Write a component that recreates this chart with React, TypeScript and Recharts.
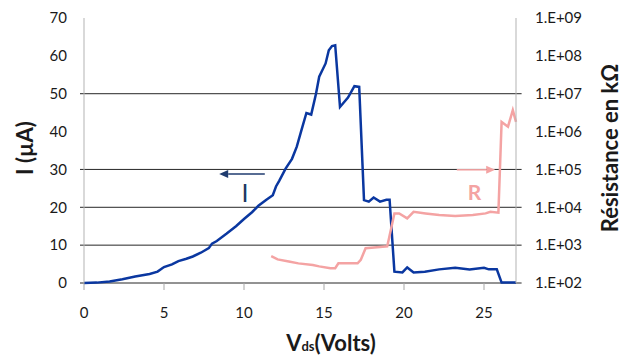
import React from 'react';
import {
  LineChart,
  Line,
  XAxis,
  YAxis,
  ReferenceLine,
  ReferenceDot,
  Label,
} from 'recharts';

// Current I (µA) vs Vds (Volts)
const vdsI = [
  0, 0.8, 1.6, 2.4, 3.2, 4.1, 4.6, 5.0, 5.5, 5.9, 6.4, 6.8, 7.3, 7.8, 8.0, 8.3, 8.9, 9.5, 10.0,
  10.5, 10.9, 11.4, 11.8, 12.0, 12.2, 12.6, 13.0, 13.3, 13.6, 13.9, 14.2, 14.5, 14.7, 15.1, 15.3,
  15.5, 15.7, 16.0, 16.5, 16.9, 17.2, 17.5, 17.8, 18.1, 18.5, 18.9, 19.1, 19.4, 19.9, 20.2, 20.6,
  21.3, 22.2, 23.2, 24.1, 25.0, 25.3, 25.8, 26.1, 27.0,
];
const currentI = [
  0, 0.1, 0.4, 1.0, 1.7, 2.4, 3.0, 4.2, 4.9, 5.8, 6.4, 7.0, 8.0, 9.2, 10.4, 11.1, 13.0, 15.0, 16.9,
  18.7, 20.4, 22.0, 23.2, 25.5, 27.0, 30.2, 32.8, 36.0, 40.5, 44.9, 44.5, 50.0, 54.5, 58.0, 61.5,
  62.6, 62.8, 46.5, 49.0, 52.0, 51.8, 21.9, 21.5, 22.6, 21.5, 22.0, 22.0, 3.0, 2.8, 4.1, 2.8,
  3.0, 3.6, 4.0, 3.6, 4.0, 3.6, 3.6, 0.1, 0.1,
];

// Resistance R (kΩ) vs Vds (Volts)
const vdsR = [
  11.7, 12.1, 12.8, 13.4, 14.3, 14.7, 15.4, 15.7, 15.9, 16.5, 17.1, 17.3, 17.6, 18.5, 18.95, 19.06,
  19.4, 19.7, 20.2, 20.6, 21.35, 22.2, 23.2, 24.3, 25.1, 25.4, 25.9, 26.1, 26.5, 26.8, 27.0,
];
const resistR = [
  510, 420, 370, 330, 300, 275, 245, 245, 330, 330, 330, 410, 830, 890, 930, 1500,
  6900, 6900, 5100, 7600, 6900, 6300, 5900, 6300, 6900, 7600, 7200, 1800000, 1350000, 3700000, 1800000,
];

const xTicks = [0, 5, 10, 15, 20, 25];
const leftTicks = [0, 10, 20, 30, 40, 50, 60, 70];
const rightTicks = [1e2, 1e3, 1e4, 1e5, 1e6, 1e7, 1e8, 1e9];
const gridValues = [0, 10, 20, 30, 50];

const dataI = vdsI.map((x, i) => ({ x, i: currentI[i] }));
const dataR = vdsR.map((x, i) => ({ x, r: resistR[i] }));

const FONT = 'Lato, "Open Sans", sans-serif';
const BLUE = '#0a37a0';
const PINK = '#f4a3a3';

const ArrowShape = (props: any) => {
  const { x1, y1, x2, y2, stroke, strokeWidth } = props;
  const ang = Math.atan2(y2 - y1, x2 - x1);
  const L = 9;
  const W = 4;
  const bx = x2 - L * Math.cos(ang);
  const by = y2 - L * Math.sin(ang);
  const px = -Math.sin(ang) * W;
  const py = Math.cos(ang) * W;
  return (
    <g>
      <line x1={x1} y1={y1} x2={bx} y2={by} stroke={stroke} strokeWidth={strokeWidth} />
      <polygon
        points={`${x2},${y2} ${bx + px},${by + py} ${bx - px},${by - py}`}
        fill={stroke}
        stroke="none"
      />
    </g>
  );
};

const fmtRight = (v: number) => {
  const e = Math.round(Math.log10(v));
  return '1.E+' + String(e).padStart(2, '0');
};

export default function App() {
  return (
    <div style={{ position: 'absolute', left: 0, top: 0, width: 624, height: 356, background: '#fff' }}>
      <LineChart width={624} height={356} margin={{ top: 18, right: 0, bottom: 0, left: 0 }}>
        <XAxis
          dataKey="x"
          type="number"
          domain={[0, 27]}
          ticks={xTicks}
          allowDuplicatedCategory={false}
          axisLine={false}
          tickLine={{ stroke: '#a6a6a6' }}
          tickSize={7}
          tickMargin={17}
          height={73}
          tick={{ fontSize: 15, fill: '#1a1a1a', fontFamily: FONT }}
        >
          <Label
            content={(p: any) => {
              const vb = p.viewBox;
              return (
                <text
                  x={vb.x + 247}
                  y={351}
                  textAnchor="middle"
                  fontFamily={FONT}
                  fontWeight="bold"
                  fontSize={22}
                  fill="#1a1a1a"
                >
                  <tspan>V</tspan>
                  <tspan fontSize={13}>ds</tspan>
                  <tspan>(Volts)</tspan>
                </text>
              );
            }}
          />
        </XAxis>
        <YAxis
          yAxisId="left"
          orientation="left"
          domain={[0, 70]}
          ticks={leftTicks}
          width={84}
          axisLine={{ stroke: '#b3b3b3' }}
          tickLine={false}
          tickSize={0}
          tickMargin={17}
          tick={{ fontSize: 15, fill: '#1a1a1a', fontFamily: FONT }}
        >
          <Label
            content={(p: any) => {
              const vb = p.viewBox;
              const cx = 24;
              const cy = vb.y + 130;
              return (
                <text
                  x={cx}
                  y={cy}
                  transform={`rotate(-90, ${cx}, ${cy})`}
                  textAnchor="middle"
                  dominantBaseline="central"
                  fontFamily={FONT}
                  fontWeight="bold"
                  fontSize={22}
                  fill="#1a1a1a"
                >
                  I (µA)
                </text>
              );
            }}
          />
        </YAxis>
        <YAxis
          yAxisId="right"
          orientation="right"
          scale="log"
          domain={[100, 1e9]}
          ticks={rightTicks}
          allowDataOverflow
          width={108}
          axisLine={{ stroke: '#b3b3b3' }}
          tickLine={false}
          tickSize={0}
          tickMargin={19}
          tickFormatter={fmtRight}
          tick={{ fontSize: 15, fill: '#1a1a1a', fontFamily: FONT }}
        >
          <Label
            content={(p: any) => {
              const vb = p.viewBox;
              const cx = vb.x + 93;
              const cy = vb.y + 130;
              return (
                <text
                  x={cx}
                  y={cy}
                  transform={`rotate(-90, ${cx}, ${cy})`}
                  textAnchor="middle"
                  dominantBaseline="central"
                  fontFamily={FONT}
                  fontWeight="bold"
                  fontSize={22}
                  fill="#1a1a1a"
                >
                  Résistance en kΩ
                </text>
              );
            }}
          />
        </YAxis>

        {gridValues.map((g) => (
          <ReferenceLine
            key={g}
            yAxisId="left"
            ifOverflow="visible"
            segment={[
              { x: -0.25, y: g },
              { x: 27.35, y: g },
            ]}
            stroke="#262626"
            strokeWidth={1}
          />
        ))}

        <Line
          yAxisId="left"
          data={dataI}
          dataKey="i"
          type="linear"
          stroke={BLUE}
          strokeWidth={2.5}
          dot={false}
          isAnimationActive={false}
        />
        <Line
          yAxisId="right"
          data={dataR}
          dataKey="r"
          type="linear"
          stroke={PINK}
          strokeWidth={2.5}
          dot={false}
          isAnimationActive={false}
        />

        <ReferenceLine
          yAxisId="left"
          ifOverflow="visible"
          segment={[
            { x: 11.3, y: 28.8 },
            { x: 8.45, y: 28.8 },
          ]}
          stroke="#1f3b6f"
          strokeWidth={1.5}
          shape={ArrowShape}
        />
        <ReferenceLine
          yAxisId="left"
          ifOverflow="visible"
          segment={[
            { x: 23.3, y: 29.9 },
            { x: 25.7, y: 29.9 },
          ]}
          stroke={PINK}
          strokeWidth={1.5}
          shape={ArrowShape}
        />
        <ReferenceDot
          yAxisId="left"
          x={10.06}
          y={23.8}
          r={0}
          fill="none"
          stroke="none"
          ifOverflow="visible"
          label={{ value: 'I', position: 'center', fill: '#1f3864', fontSize: 25, fontFamily: FONT }}
        />
        <ReferenceDot
          yAxisId="left"
          x={24.4}
          y={23.9}
          r={0}
          fill="none"
          stroke="none"
          ifOverflow="visible"
          label={{ value: 'R', position: 'center', fill: PINK, fontSize: 21, fontWeight: 'bold', fontFamily: FONT }}
        />
      </LineChart>
    </div>
  );
}
